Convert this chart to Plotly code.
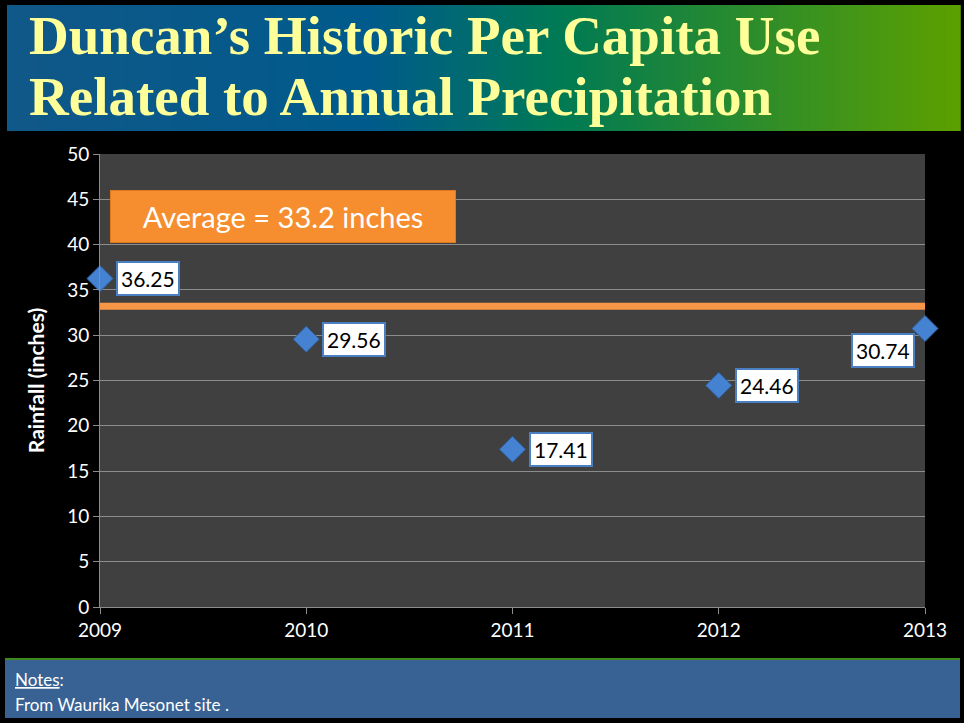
import plotly.graph_objects as go

# data
years = [2009, 2010, 2011, 2012, 2013]
rainfall = [36.25, 29.56, 17.41, 24.46, 30.74]
average = 33.2
y_ticks = [0, 5, 10, 15, 20, 25, 30, 35, 40, 45, 50]

W, H = 964, 723
BLUE = '#4a7fc1'


def px(x):
    return x / W


def py(y):
    return 1 - y / H


fig = go.Figure()

# average line
fig.add_trace(go.Scatter(
    x=[years[0], years[-1]], y=[average, average],
    mode='lines', line=dict(color='#f79646', width=7),
    hoverinfo='skip', showlegend=False
))

# rainfall points
fig.add_trace(go.Scatter(
    x=years, y=rainfall, mode='markers',
    marker=dict(symbol='diamond', size=20, color='#4583d2',
                line=dict(color='#2f5f9e', width=1)),
    cliponaxis=False, showlegend=False
))

shapes = []

# title band, horizontal gradient made of thin strips
stops = [(0.0, (16, 88, 136)), (0.38, (0, 90, 140)), (0.58, (0, 122, 84)),
         (1.0, (92, 160, 0))]


def grad(t):
    for (t0, c0), (t1, c1) in zip(stops[:-1], stops[1:]):
        if t <= t1:
            f = (t - t0) / (t1 - t0)
            return 'rgb(%d,%d,%d)' % tuple(round(a + (b - a) * f) for a, b in zip(c0, c1))
    return 'rgb(%d,%d,%d)' % stops[-1][1]


x_left, x_right, n = 7, 960, 120
step = (x_right - x_left) / n
for i in range(n):
    shapes.append(dict(
        type='rect', xref='paper', yref='paper', layer='below',
        x0=px(x_left + i * step), x1=px(x_left + (i + 1) * step + 0.8),
        y0=py(131), y1=py(5), line_width=0, fillcolor=grad((i + 0.5) / n)
    ))

# notes band
shapes.append(dict(type='rect', xref='paper', yref='paper', layer='below',
                   x0=px(5), x1=px(960), y0=py(718), y1=py(659),
                   line_width=0, fillcolor='#386194'))
shapes.append(dict(type='line', xref='paper', yref='paper', layer='below',
                   x0=px(5), x1=px(960), y0=py(659), y1=py(659),
                   line=dict(color='#3e8a1e', width=2)))

annotations = []

# title
title_font = dict(family='Liberation Serif', size=55, color='#ffff99')
annotations.append(dict(text='<b>Duncan’s Historic Per Capita Use</b>', xref='paper', yref='paper',
                        x=px(27), y=py(35), xanchor='left', yanchor='middle',
                        showarrow=False, font=title_font))
annotations.append(dict(text='<b>Related to Annual Precipitation</b>', xref='paper', yref='paper',
                        x=px(27), y=py(97), xanchor='left', yanchor='middle',
                        showarrow=False, font=title_font))

# average callout
annotations.append(dict(text='Average = 33.2 inches', xref='paper', yref='paper',
                        x=px(110), y=py(190), xanchor='left', yanchor='top',
                        width=340, height=47, borderpad=2,
                        bgcolor='#f68d2e', bordercolor='#e0781e', borderwidth=1,
                        showarrow=False,
                        font=dict(family='Lato', size=29, color='white')))

# point labels
for yr, val in zip(years, rainfall):
    last = yr == years[-1]
    annotations.append(dict(
        text='%.2f' % val, x=yr, y=val, xref='x', yref='y',
        xanchor='right' if last else 'left',
        yanchor='top' if last else 'middle',
        xshift=-10 if last else 16, yshift=-4 if last else 0,
        showarrow=False, bgcolor='white', bordercolor=BLUE, borderwidth=2,
        borderpad=3, font=dict(family='Lato', size=21, color='black')
    ))

# notes
annotations.append(dict(text='<u>Notes</u>:', xref='paper', yref='paper',
                        x=px(13), y=py(679), xanchor='left', yanchor='middle',
                        showarrow=False, font=dict(family='Lato', size=17, color='white')))
annotations.append(dict(text='From Waurika Mesonet site .', xref='paper', yref='paper',
                        x=px(13), y=py(704), xanchor='left', yanchor='middle',
                        showarrow=False, font=dict(family='Lato', size=17, color='white')))

fig.update_layout(
    width=W, height=H,
    margin=dict(l=0, r=0, t=0, b=0),
    paper_bgcolor='black', plot_bgcolor='#404040',
    showlegend=False,
    shapes=shapes, annotations=annotations,
    xaxis=dict(domain=[px(100), px(925)], range=[2009, 2013], automargin=False,
               tickvals=years, ticktext=[str(y) for y in years],
               ticks='outside', ticklen=6, tickcolor='#8c8c8c',
               showgrid=False, zeroline=False,
               showline=True, linecolor='#8c8c8c', linewidth=1,
               tickfont=dict(family='Lato', size=19, color='white')),
    yaxis=dict(domain=[py(607), py(154)], range=[0, 50], automargin=False,
               tickvals=y_ticks,
               ticks='outside', ticklen=6, tickcolor='#8c8c8c',
               showgrid=True, gridcolor='#8c8c8c', gridwidth=1,
               zeroline=False, showline=True, linecolor='#8c8c8c', linewidth=1,
               tickfont=dict(family='Lato', size=19, color='white'),
               title=dict(text='<b>Rainfall (inches)</b>', standoff=16,
                          font=dict(family='Lato', size=21, color='white'))),
)

# drop the default page margin so the figure sits at the window's corner
fig.write_html('out.html', config={'displayModeBar': False},
               post_script="document.body.style.margin='0';")
